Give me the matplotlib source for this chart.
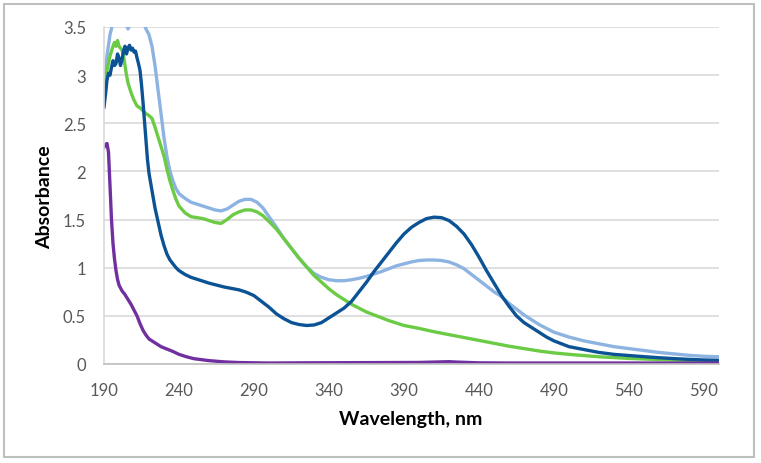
import matplotlib
matplotlib.use("Agg")
import matplotlib.pyplot as plt
from matplotlib.patches import Rectangle

# ---- data ----
x_ticks = [190, 240, 290, 340, 390, 440, 490, 540, 590]
y_ticks = [0, 0.5, 1, 1.5, 2, 2.5, 3, 3.5]
y_tick_labels = ["0", "0.5", "1", "1.5", "2", "2.5", "3", "3.5"]

lb_wl = [190, 192, 194, 196, 198, 200, 202, 204, 206, 208, 210, 212, 214, 216, 218, 220, 222, 224, 226, 228,
         230, 232, 234, 236, 238, 240, 244, 248, 252, 256, 260, 264, 268, 272, 276, 280, 284, 288, 292, 296,
         300, 305, 310, 315, 320, 325, 330, 335, 340, 345, 350, 355, 360, 365, 370, 375, 380, 385, 390, 395,
         400, 405, 410, 415, 420, 425, 430, 435, 440, 445, 450, 455, 460, 465, 470, 475, 480, 490, 500, 510,
         520, 530, 540, 550, 560, 570, 580, 590, 600]
lb_abs = [2.88, 3.2, 3.42, 3.55, 3.6, 3.58, 3.62, 3.56, 3.48, 3.55, 3.6, 3.62, 3.6, 3.55, 3.48, 3.42, 3.3, 3.1, 2.85, 2.6,
          2.35, 2.15, 2.0, 1.9, 1.82, 1.77, 1.72, 1.68, 1.66, 1.64, 1.62, 1.6, 1.59, 1.61, 1.65, 1.69, 1.71, 1.71, 1.68, 1.62,
          1.53, 1.42, 1.3, 1.2, 1.1, 1.01, 0.94, 0.9, 0.875, 0.865, 0.865, 0.875, 0.89, 0.91, 0.935, 0.96, 0.99, 1.02, 1.04, 1.06,
          1.075, 1.08, 1.08, 1.075, 1.06, 1.03, 0.99, 0.93, 0.87, 0.81, 0.75, 0.7, 0.63, 0.57, 0.51, 0.46, 0.41, 0.33, 0.28, 0.24,
          0.21, 0.18, 0.16, 0.14, 0.12, 0.105, 0.09, 0.08, 0.075]

gr_wl = [190, 192, 194, 196, 197, 198, 199, 200, 201, 202, 203, 204, 205, 206, 208, 210, 212, 214, 216, 218,
         220, 222, 224, 226, 228, 230, 232, 234, 236, 238, 240, 244, 248, 252, 256, 260, 264, 268, 272, 276,
         280, 284, 288, 292, 296, 300, 305, 310, 315, 320, 325, 330, 335, 340, 345, 350, 355, 360, 365, 370,
         375, 380, 390, 400, 410, 420, 430, 440, 450, 460, 470, 480, 490, 500, 520, 540, 560, 580, 600]
gr_abs = [2.88, 3.05, 3.2, 3.3, 3.34, 3.3, 3.36, 3.3, 3.28, 3.26, 3.2, 3.1, 3.0, 2.92, 2.82, 2.74, 2.68, 2.66, 2.63, 2.6,
          2.58, 2.55, 2.46, 2.36, 2.26, 2.16, 2.02, 1.9, 1.8, 1.71, 1.64, 1.57, 1.53, 1.52, 1.51, 1.49, 1.47, 1.46, 1.5, 1.55,
          1.58, 1.6, 1.6, 1.58, 1.54, 1.48, 1.4, 1.3, 1.2, 1.1, 1.01, 0.92, 0.85, 0.78, 0.72, 0.67, 0.62, 0.58, 0.54, 0.51,
          0.48, 0.45, 0.4, 0.37, 0.335, 0.305, 0.275, 0.245, 0.215, 0.185, 0.16, 0.135, 0.115, 0.1, 0.075, 0.058, 0.046, 0.037, 0.03]

db_wl = [190, 191, 192, 193, 194, 195, 196, 197, 198, 199, 200, 201, 202, 203, 204, 205, 206, 207, 208, 209,
         210, 211, 212, 213, 214, 215, 216, 217, 218, 219, 220, 222, 224, 226, 228, 230, 232, 234, 236, 238,
         240, 244, 248, 252, 256, 260, 265, 270, 275, 280, 285, 290, 295, 300, 305, 310, 315, 320, 325, 330,
         335, 340, 345, 350, 355, 360, 365, 370, 375, 380, 385, 390, 395, 400, 405, 410, 415, 420, 425, 430,
         435, 440, 445, 450, 455, 460, 465, 470, 475, 480, 485, 490, 500, 510, 520, 530, 540, 550, 560, 570,
         580, 590, 600]
db_abs = [2.67, 2.8, 2.95, 3.02, 3.0, 3.08, 3.15, 3.1, 3.12, 3.22, 3.18, 3.1, 3.16, 3.25, 3.3, 3.22, 3.28, 3.31, 3.26, 3.28,
          3.24, 3.25, 3.18, 3.12, 3.05, 2.9, 2.72, 2.52, 2.32, 2.12, 1.98, 1.8, 1.62, 1.48, 1.34, 1.23, 1.14, 1.08, 1.04, 1.0,
          0.97, 0.93, 0.9, 0.88, 0.86, 0.84, 0.82, 0.8, 0.785, 0.77, 0.745, 0.71, 0.65, 0.59, 0.52, 0.47, 0.43, 0.41, 0.4, 0.405,
          0.43, 0.48, 0.53, 0.58, 0.65, 0.75, 0.85, 0.96, 1.06, 1.16, 1.26, 1.35, 1.42, 1.47, 1.51, 1.525, 1.52, 1.49, 1.43, 1.35,
          1.24, 1.11, 0.97, 0.84, 0.71, 0.6, 0.5, 0.43, 0.38, 0.33, 0.28, 0.24, 0.18, 0.15, 0.12, 0.1, 0.088, 0.076, 0.065, 0.056,
          0.048, 0.042, 0.038]

pu_wl = [190, 191, 192, 193, 194, 195, 196, 197, 198, 199, 200, 202, 204, 206, 208, 210, 212, 214, 216, 218,
         220, 224, 228, 232, 236, 240, 245, 250, 260, 270, 280, 300, 320, 340, 360, 380, 400, 415, 420, 425,
         440, 460, 500, 550, 600]
pu_abs = [2.25, 2.28, 2.29, 2.2, 1.85, 1.5, 1.25, 1.09, 0.97, 0.88, 0.82, 0.76, 0.72, 0.67, 0.62, 0.56, 0.5, 0.42, 0.35, 0.3,
          0.26, 0.22, 0.18, 0.155, 0.13, 0.1, 0.075, 0.055, 0.035, 0.022, 0.015, 0.01, 0.012, 0.013, 0.014, 0.015, 0.016, 0.022, 0.024, 0.02,
          0.012, 0.01, 0.01, 0.01, 0.01]

# ---- figure ----
W, H = 761, 464
fig = plt.figure(figsize=(W / 100, H / 100), dpi=100)
ax = fig.add_axes([104 / W, 1 - 365 / H, (719 - 104) / W, (365 - 28) / H])

lw = 2.4
ax.plot(lb_wl, lb_abs, color="#8DB3E2", lw=lw, solid_joinstyle="round")
ax.plot(gr_wl, gr_abs, color="#6CCB45", lw=lw, solid_joinstyle="round")
ax.plot(db_wl, db_abs, color="#0B5394", lw=lw, solid_joinstyle="round")
ax.plot(pu_wl, pu_abs, color="#7030A0", lw=lw, solid_joinstyle="round")

ax.set_xlim(190, 600)
ax.set_ylim(0, 3.5)
ax.set_xticks(x_ticks)
ax.set_yticks(y_ticks)
ax.set_yticklabels(y_tick_labels)
ax.grid(axis="y", color="#D9D9D9", lw=1.2)
ax.set_axisbelow(True)
for s in ["top", "right"]:
    ax.spines[s].set_visible(False)
ax.spines["left"].set_color("#D9D9D9")
ax.spines["bottom"].set_color("#BFBFBF")
ax.spines["left"].set_linewidth(1.2)
ax.spines["bottom"].set_linewidth(1.2)
ax.tick_params(length=0, labelsize=12, labelcolor="#595959")
ax.tick_params(axis="x", pad=13)
ax.tick_params(axis="y", pad=13)
for lab in ax.get_xticklabels() + ax.get_yticklabels():
    lab.set_fontfamily("Lato")

fig.text(411 / W, 1 - 420 / H, "Wavelength, nm", ha="center", va="center",
         fontsize=14, fontweight="bold", family="Lato")
fig.text(45 / W, 1 - 197 / H, "Absorbance", ha="center", va="center", rotation=90,
         fontsize=14, fontweight="bold", family="Lato")

fig.patches.append(Rectangle((4 / W, 1 - 458 / H), 750 / W, 453 / H, transform=fig.transFigure,
                             fill=False, edgecolor="#BFBFBF", lw=1.5))

fig.savefig("out.png", dpi=100)
